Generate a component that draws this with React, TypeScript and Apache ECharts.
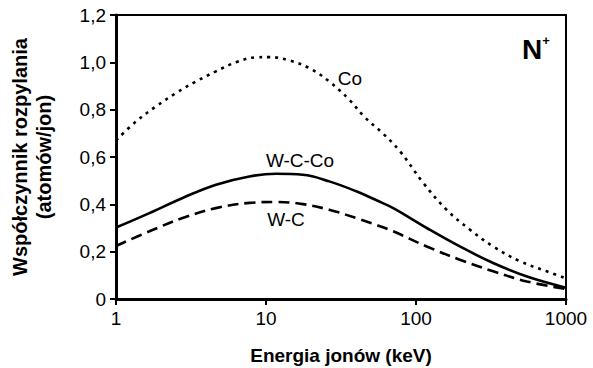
import React, { useEffect, useRef } from "react";
import * as echarts from "echarts";

const coEnergy = [1, 1.36, 1.85, 2.51, 3.41, 4.64, 6.31, 8.58, 10.5, 14.3, 19.4, 26.4, 35.9, 45, 60, 78, 112, 160, 229, 327, 495, 745, 1000];
const coValues = [0.67, 0.75, 0.814, 0.87, 0.919, 0.962, 1.0, 1.021, 1.022, 1.008, 0.976, 0.919, 0.842, 0.771, 0.7, 0.625, 0.49, 0.377, 0.293, 0.222, 0.159, 0.117, 0.087];
const wEnergy = [1, 1.67, 2.78, 4.64, 7.74, 11.7, 17.6, 26.4, 40, 55, 70.5, 118, 196, 327, 549, 1000];
const wccoValues = [0.302, 0.363, 0.427, 0.483, 0.518, 0.529, 0.525, 0.497, 0.455, 0.416, 0.384, 0.3, 0.222, 0.152, 0.095, 0.048];
const wcValues = [0.224, 0.286, 0.342, 0.384, 0.406, 0.41, 0.401, 0.377, 0.342, 0.312, 0.286, 0.222, 0.166, 0.117, 0.074, 0.042];
const yTicks = [0, 0.2, 0.4, 0.6, 0.8, 1.0, 1.2];
const xTitle = "Energia jonów (keV)";
const yTitle = "Współczynnik rozpylania\n(atomów/jon)";

const FONT = "'Liberation Sans', Arial, sans-serif";

export default function App() {
  const ref = useRef<HTMLDivElement>(null);
  useEffect(() => {
    if (!ref.current) return;
    const chart = echarts.init(ref.current, undefined, { renderer: "svg" });
    const pairs = (xs: number[], vals: number[]) => xs.map((e, i) => [e, vals[i]]);
    const lineBase = { type: "line", smooth: 0.4, symbol: "none", silent: true };
    const labelStyle = { fontSize: 19, fontFamily: FONT, fill: "#000", align: "center", verticalAlign: "middle" };
    chart.setOption({
      animation: false,
      backgroundColor: "#fff",
      textStyle: { fontFamily: FONT },
      grid: {
        left: 116,
        right: 27,
        top: 15,
        bottom: 69,
        show: true,
        borderColor: "#000",
        borderWidth: 2,
        backgroundColor: "transparent",
      },
      xAxis: {
        type: "log",
        logBase: 10,
        min: 1,
        max: 1000,
        axisLine: { show: true, lineStyle: { color: "#000", width: 3 } },
        axisTick: { show: true, length: 6, lineStyle: { color: "#000", width: 2 } },
        minorTick: { show: false },
        splitLine: { show: false },
        axisLabel: {
          color: "#000",
          fontSize: 19,
          margin: 10,
          fontFamily: FONT,
          formatter: (v: number) => String(Math.round(v)),
        },
      },
      yAxis: {
        type: "value",
        min: yTicks[0],
        max: yTicks[yTicks.length - 1],
        interval: 0.2,
        axisLine: { show: true, lineStyle: { color: "#000", width: 3 } },
        axisTick: { show: true, length: 6, lineStyle: { color: "#000", width: 2 } },
        splitLine: { show: false },
        axisLabel: {
          color: "#000",
          fontSize: 19,
          margin: 10,
          fontFamily: FONT,
          formatter: (v: number) => (Math.abs(v) < 1e-9 ? "0" : v.toFixed(1).replace(".", ",")),
        },
      },
      series: [
        { ...lineBase, name: "Co", data: pairs(coEnergy, coValues), lineStyle: { color: "#000", width: 2.6, type: [3, 5], cap: "butt" } },
        { ...lineBase, name: "W-C-Co", data: pairs(wEnergy, wccoValues), lineStyle: { color: "#000", width: 2.6, type: "solid" } },
        { ...lineBase, name: "W-C", data: pairs(wEnergy, wcValues), lineStyle: { color: "#000", width: 2.6, type: [11, 6], cap: "butt" } },
      ],
      graphic: [
        { type: "text", x: 350, y: 78, style: { ...labelStyle, text: "Co" } },
        { type: "text", x: 300, y: 160, style: { ...labelStyle, text: "W-C-Co" } },
        { type: "text", x: 286, y: 219, style: { ...labelStyle, text: "W-C" } },
        {
          type: "text",
          x: 532,
          y: 49,
          style: { text: "N", fontSize: 28, fontWeight: "bold", fontFamily: FONT, fill: "#000", align: "center", verticalAlign: "middle" },
        },
        {
          type: "text",
          x: 546,
          y: 40,
          style: { text: "+", fontSize: 13, fontWeight: "bold", fontFamily: FONT, fill: "#000", align: "center", verticalAlign: "middle" },
        },
        {
          type: "text",
          x: 341,
          y: 355,
          style: { text: xTitle, fontSize: 19, fontWeight: "bold", fontFamily: FONT, fill: "#000", align: "center", verticalAlign: "middle" },
        },
        {
          type: "text",
          x: 32,
          y: 157,
          rotation: Math.PI / 2,
          style: {
            text: yTitle,
            fontSize: 20,
            lineHeight: 24,
            fontWeight: "bold",
            fontFamily: FONT,
            fill: "#000",
            align: "center",
            verticalAlign: "middle",
          },
        },
      ],
    });
    return () => chart.dispose();
  }, []);
  return (
    <div
      ref={ref}
      style={{ position: "fixed", left: 0, top: 0, width: 593, height: 368, background: "#fff" }}
    />
  );
}
